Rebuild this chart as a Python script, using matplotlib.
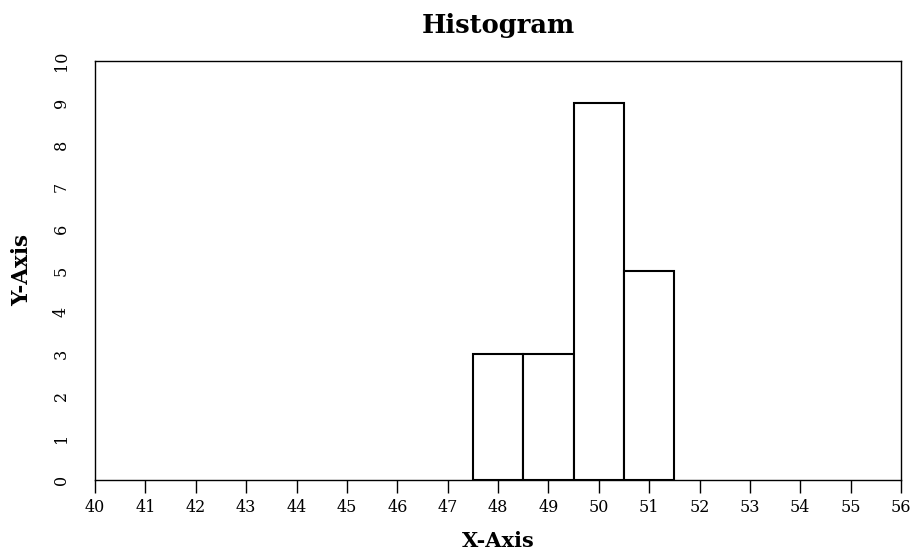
import numpy as np
import matplotlib
matplotlib.use("Agg")
import matplotlib.pyplot as plt

# histogram bins (left edges) and counts
bin_left = [47.5, 48.5, 49.5, 50.5]
counts = [3, 3, 9, 5]
bin_width = 1.0

x_ticks = list(range(40, 57))
y_ticks = list(range(0, 11))

plt.rcParams['font.family'] = ['DejaVu Serif']

fig = plt.figure(figsize=(9.14, 5.54), dpi=100)
ax = fig.add_axes([95 / 914, 1 - 480 / 554, (901 - 95) / 914, (480 - 61) / 554])

ax.bar(bin_left, counts, width=bin_width, align='edge',
       facecolor='white', edgecolor='black', linewidth=1.5)

ax.set_xlim(40, 56)
ax.set_ylim(0, 10)
ax.set_xticks(x_ticks)
ax.set_yticks(y_ticks)
ax.tick_params(axis='x', direction='out', length=9.5, width=1.0, labelsize=11.5, pad=4)
ax.tick_params(axis='y', length=0, labelsize=11.5, pad=18)
for lab in ax.get_yticklabels():
    lab.set_rotation(90)
    lab.set_va('center')

for s in ax.spines.values():
    s.set_linewidth(1.0)

ax.set_title('Histogram', fontsize=18.5, fontweight='bold', pad=20)
ax.set_xlabel('X-Axis', fontsize=15, fontweight='bold', labelpad=11)
ax.set_ylabel('Y-Axis', fontsize=15.5, fontweight='bold', labelpad=14)

fig.savefig('out.png', dpi=100)
